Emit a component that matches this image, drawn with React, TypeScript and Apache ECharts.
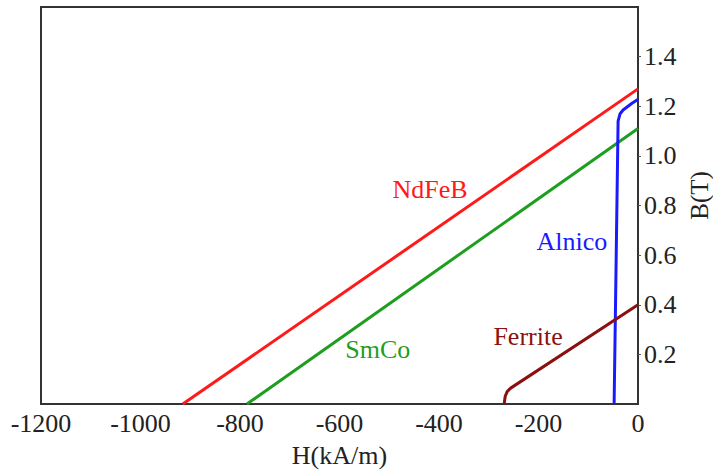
import React, { useEffect, useRef } from "react";
import * as echarts from "echarts";

const xTicks = { min: -1200, max: 0, interval: 200 };
const yTicks = { min: 0, max: 1.6, interval: 0.2 };

const ndfebData: [number, number][] = [[-915, 0], [0, 1.27]];
const smcoData: [number, number][] = [[-786, 0], [0, 1.11]];
const alnicoData: [number, number][] = [
  [-48, 0], [-40, 1.14], [-36, 1.17], [-30, 1.185], [-20, 1.2], [-12, 1.212], [-2, 1.225], [0, 1.228],
];
const ferriteData: [number, number][] = [
  [-269, 0], [-267, 0.03], [-263, 0.05], [-256, 0.064], [0, 0.4],
];

const seriesNames = ["NdFeB", "SmCo", "Alnico", "Ferrite"];
const seriesColors = ["#ff1a1a", "#1e9e1e", "#1a1aff", "#8b1010"];
const labelCoords: [number, number][] = [[-418, 0.865], [-523, 0.218], [-133, 0.655], [-221, 0.271]];

const FONT = "Liberation Serif";

export default function App() {
  const ref = useRef<HTMLDivElement>(null);
  useEffect(() => {
    document.body.style.margin = "0";
    const chart = echarts.init(ref.current!, undefined, { renderer: "svg" });
    const datas = [ndfebData, smcoData, alnicoData, ferriteData];
    chart.setOption({
      animation: false,
      backgroundColor: "#fff",
      grid: {
        left: 41, right: 75, top: 7, bottom: 67,
        containLabel: false, outerBoundsMode: "none",
        show: true, borderColor: "#333", borderWidth: 2,
      },
      xAxis: {
        type: "value",
        ...xTicks,
        name: "H(kA/m)",
        nameLocation: "middle",
        nameGap: 38,
        nameTextStyle: { fontFamily: FONT, fontSize: 26, color: "#222" },
        axisLine: { show: true, onZero: false, lineStyle: { color: "#333", width: 2 } },
        axisTick: { show: false },
        splitLine: { show: false },
        axisLabel: {
          fontFamily: FONT, fontSize: 26, color: "#222", margin: 6,
          formatter: (v: number) => String(v),
        },
      },
      yAxis: {
        type: "value",
        position: "right",
        ...yTicks,
        name: "B(T)",
        nameLocation: "middle",
        nameRotate: 90,
        nameGap: 44,
        nameTextStyle: { fontFamily: FONT, fontSize: 25, color: "#222", padding: [0, 0, 0, 20] },
        axisLine: { show: true, lineStyle: { color: "#333", width: 2 } },
        axisTick: { show: true, length: 3, lineStyle: { color: "#555" } },
        splitLine: { show: false },
        axisLabel: {
          fontFamily: FONT, fontSize: 26, color: "#222", margin: 6,
          showMinLabel: false, showMaxLabel: false,
          formatter: (v: number) => v.toFixed(1),
        },
      },
      series: seriesNames.map((name, i) => ({
        name,
        type: "line",
        data: datas[i],
        showSymbol: false,
        smooth: false,
        lineStyle: { color: seriesColors[i], width: 3 },
        itemStyle: { color: seriesColors[i] },
        markPoint: {
          symbol: "circle",
          symbolSize: 1,
          itemStyle: { color: "transparent" },
          label: {
            show: true,
            position: "inside",
            formatter: name,
            fontFamily: FONT,
            fontSize: 26,
            color: seriesColors[i],
          },
          data: [{ coord: labelCoords[i] }],
        },
      })),
    });
    return () => chart.dispose();
  }, []);
  return <div ref={ref} style={{ width: 713, height: 471 }} />;
}
